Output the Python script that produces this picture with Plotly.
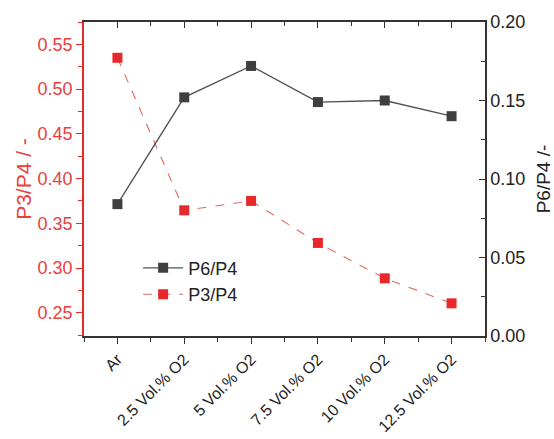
import plotly.graph_objects as go

categories = ["Ar", "2.5 Vol.% O2", "5 Vol.% O2", "7.5 Vol.% O2", "10 Vol.% O2", "12.5 Vol.% O2"]
p6_p4 = [0.084, 0.152, 0.172, 0.149, 0.150, 0.140]
p3_p4 = [0.535, 0.3645, 0.375, 0.328, 0.2885, 0.2605]
left_ticks = [0.25, 0.30, 0.35, 0.40, 0.45, 0.50, 0.55]
right_ticks = [0.00, 0.05, 0.10, 0.15, 0.20]

xpos = list(range(len(categories)))
RED = "#e8292b"
RED_TXT = "#e8413c"
DARK = "#3f3f3f"
FONT = "Liberation Sans, Arial, sans-serif"

fig = go.Figure()
fig.add_trace(go.Scatter(
    x=xpos, y=p6_p4, name="P6/P4", yaxis="y2", mode="lines+markers",
    line=dict(color="#505050", width=1.3),
    marker=dict(symbol="square", size=10, color=DARK),
))
fig.add_trace(go.Scatter(
    x=xpos, y=p3_p4, name="P3/P4", yaxis="y", mode="lines+markers",
    line=dict(color="#e06a66", width=1.1, dash="dash"),
    marker=dict(symbol="square", size=10, color=RED),
))

xr = [-0.5, len(categories) - 0.5]
fig.update_layout(
    width=554, height=439,
    margin=dict(l=84, r=69, t=22, b=103),
    paper_bgcolor="white", plot_bgcolor="white",
    font=dict(family=FONT, size=16, color="#222"),
    showlegend=True,
    legend=dict(x=0.135, y=0.275, xanchor="left", yanchor="top",
                bgcolor="rgba(0,0,0,0)", font=dict(size=18, color="#222"),
                tracegroupgap=0, itemwidth=40),
    xaxis=dict(
        range=xr, tickmode="array", tickvals=xpos, ticktext=categories,
        tickangle=-45, ticks="outside", ticklen=6, tickwidth=1.3, tickcolor="#333",
        showline=True, linecolor="#333", linewidth=1.5, mirror=True,
        showgrid=False, zeroline=False, automargin=False,
        minor=dict(dtick=0.5, tick0=-0.5, ticks="outside", ticklen=4, tickcolor="#333"),
        tickfont=dict(size=16, color="#222"),
    ),
    xaxis3=dict(
        overlaying="x", side="top", range=xr, tickmode="array", tickvals=xpos,
        ticks="inside", ticklen=6, tickwidth=1.3, tickcolor="#333",
        showticklabels=False, showgrid=False, zeroline=False, showline=False,
        automargin=False,
        minor=dict(dtick=0.5, tick0=-0.5, ticks="inside", ticklen=4, tickcolor="#333"),
    ),
    yaxis=dict(
        range=[0.224, 0.575], tickmode="array", tickvals=left_ticks, tickformat=".2f",
        ticks="outside", ticklen=6, tickwidth=1.3, tickcolor=RED,
        showline=True, linecolor=RED, linewidth=1.5,
        showgrid=False, zeroline=False, automargin=False,
        minor=dict(dtick=0.025, tick0=0.225, ticks="outside", ticklen=4, tickcolor=RED),
        tickfont=dict(size=18, color=RED_TXT),
        title=dict(text="P3/P4 / -", font=dict(size=21, color=RED_TXT), standoff=0),
    ),
    yaxis2=dict(
        overlaying="y", side="right", range=[0, 0.2], tickmode="array",
        tickvals=right_ticks, tickformat=".2f",
        ticks="inside", ticklen=6, tickwidth=1.3, tickcolor="#333",
        showline=True, linecolor="#333", linewidth=1.5,
        showgrid=False, zeroline=False, automargin=False,
        minor=dict(dtick=0.025, tick0=0, ticks="inside", ticklen=4, tickcolor="#333"),
        tickfont=dict(size=18, color="#222"),
        title=dict(text="P6/P4 /-", font=dict(size=19, color="#222"), standoff=14),
    ),
)
fig.add_trace(go.Scatter(x=[None], y=[None], xaxis="x3", showlegend=False, hoverinfo="skip"))

fig.write_html("out.html")
